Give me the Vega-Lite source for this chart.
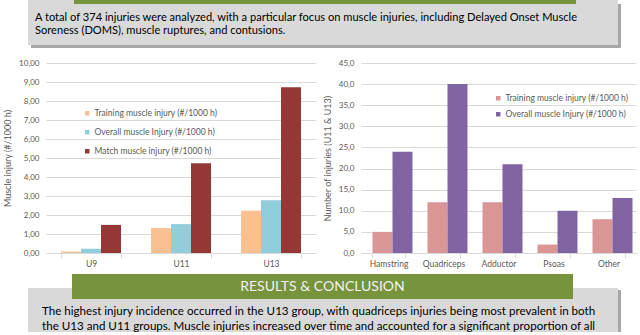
{
  "$schema": "https://vega.github.io/schema/vega-lite/v6.json",
  "padding": {"left": 3, "top": 0, "right": 0, "bottom": 0},
  "background": "white",
  "config": {
    "font": "Lato",
    "view": {"stroke": null},
    "locale": {"number": {"decimal": ",", "thousands": ".", "grouping": [3], "currency": ["", " €"]}},
    "axis": {"labelFont": "Lato", "titleFont": "Lato"},
    "legend": {"labelFont": "Lato"}
  },
  "vconcat": [
    {
      "vconcat": [
        {
          "hconcat": [
            {"width": 46, "height": 4, "view": {"fill": "#D9D9D9", "stroke": null}, "data": {"values": []}, "mark": {"type": "rect", "opacity": 0}, "encoding": {}},
            {"width": 502, "height": 4, "view": {"fill": "#77933C", "stroke": null}, "data": {"values": []}, "mark": {"type": "rect", "opacity": 0}, "encoding": {}},
            {"width": 42, "height": 4, "view": {"fill": "#D9D9D9", "stroke": null}, "data": {"values": []}, "mark": {"type": "rect", "opacity": 0}, "encoding": {}},
            {"width": 36, "height": 4, "data": {"values": []}, "mark": {"type": "rect", "opacity": 0}, "encoding": {}}
          ],
          "spacing": 0
        },
        {
          "hconcat": [
            {
              "width": 590, "height": 41,
              "view": {"fill": "#D9D9D9", "stroke": null},
              "data": {"values": [
                {"line": 1, "text": "A total of 374 injuries were analyzed, with a particular focus on muscle injuries, including Delayed Onset Muscle"},
                {"line": 2, "text": "Soreness (DOMS), muscle ruptures, and contusions."}
              ]},
              "mark": {"type": "text", "align": "left", "baseline": "alphabetic", "fontSize": 11.1, "color": "#000000", "font": "Lato"},
              "encoding": {
                "x": {"value": 7},
                "y": {"field": "line", "type": "ordinal", "axis": null, "scale": {"padding": 0.986, "align": 0.61}},
                "text": {"field": "text"}
              }
            },
            {"width": 3, "height": 41, "view": {"fill": "#A6A6A6", "stroke": null}, "data": {"values": []}, "mark": {"type": "rect", "opacity": 0}, "encoding": {}},
            {"width": 33, "height": 41, "data": {"values": []}, "mark": {"type": "rect", "opacity": 0}, "encoding": {}}
          ],
          "spacing": 0
        },
        {
          "hconcat": [
            {"width": 3, "height": 3, "data": {"values": []}, "mark": {"type": "rect", "opacity": 0}, "encoding": {}},
            {"width": 590, "height": 3, "view": {"fill": "#A6A6A6", "stroke": null}, "data": {"values": []}, "mark": {"type": "rect", "opacity": 0}, "encoding": {}},
            {"width": 33, "height": 3, "data": {"values": []}, "mark": {"type": "rect", "opacity": 0}, "encoding": {}}
          ],
          "spacing": 0
        }
      ],
      "spacing": 0
    },
    {
      "vconcat": [
        {
          "hconcat": [
            {
              "width": 270, "height": 190,
              "data": {"values": [
                {"age": "U9", "series": "Training muscle injury (#/1000 h)", "value": 0.08},
                {"age": "U9", "series": "Overall muscle Injury (#/1000 h)", "value": 0.23},
                {"age": "U9", "series": "Match muscle injury (#/1000 h)", "value": 1.48},
                {"age": "U11", "series": "Training muscle injury (#/1000 h)", "value": 1.31},
                {"age": "U11", "series": "Overall muscle Injury (#/1000 h)", "value": 1.52},
                {"age": "U11", "series": "Match muscle injury (#/1000 h)", "value": 4.72},
                {"age": "U13", "series": "Training muscle injury (#/1000 h)", "value": 2.22},
                {"age": "U13", "series": "Overall muscle Injury (#/1000 h)", "value": 2.77},
                {"age": "U13", "series": "Match muscle injury (#/1000 h)", "value": 8.72}
              ]},
              "mark": {"type": "bar"},
              "encoding": {
                "x": {
                  "field": "age", "type": "nominal", "sort": ["U9", "U11", "U13"],
                  "scale": {"paddingInner": 0.3333, "paddingOuter": 0.1667},
                  "axis": {"title": null, "labelAngle": 0, "tickBand": "extent", "tickColor": "#D9D9D9", "tickSize": 5, "domainColor": "#D9D9D9", "labelPadding": 1, "labelFontSize": 8.5, "labelColor": "#595959"}
                },
                "xOffset": {
                  "field": "series", "type": "nominal",
                  "scale": {"domain": ["Training muscle injury (#/1000 h)", "Overall muscle Injury (#/1000 h)", "Match muscle injury (#/1000 h)"], "paddingInner": 0, "paddingOuter": 0}
                },
                "y": {
                  "field": "value", "type": "quantitative",
                  "scale": {"domain": [0, 10], "nice": false},
                  "axis": {"title": "Muscle injury (#/1000 h)", "format": ".2f", "values": [0, 1, 2, 3, 4, 5, 6, 7, 8, 9, 10], "grid": true, "gridColor": "#D9D9D9", "domain": false, "ticks": false, "labelPadding": 7, "labelFontSize": 8, "labelColor": "#595959", "titleFontSize": 9, "titleFontWeight": "normal", "titleColor": "#595959", "titlePadding": 6}
                },
                "color": {
                  "field": "series", "type": "nominal",
                  "scale": {"domain": ["Training muscle injury (#/1000 h)", "Overall muscle Injury (#/1000 h)", "Match muscle injury (#/1000 h)"], "range": ["#FAC090", "#92CDDC", "#953735"]},
                  "legend": {"orient": "none", "legendX": 37, "legendY": 46, "title": null, "symbolType": "square", "symbolSize": 20, "symbolStrokeWidth": 0, "labelFontSize": 8.5, "labelColor": "#595959", "rowPadding": 10, "padding": 0, "labelOffset": 3}
                }
              }
            },
            {
              "width": 275, "height": 190,
              "data": {"values": [
                {"muscle": "Hamstring", "kind": "Training muscle injury (#/1000 h)", "count": 5},
                {"muscle": "Hamstring", "kind": "Overall muscle Injury (#/1000 h)", "count": 24},
                {"muscle": "Quadriceps", "kind": "Training muscle injury (#/1000 h)", "count": 12},
                {"muscle": "Quadriceps", "kind": "Overall muscle Injury (#/1000 h)", "count": 40},
                {"muscle": "Adductor", "kind": "Training muscle injury (#/1000 h)", "count": 12},
                {"muscle": "Adductor", "kind": "Overall muscle Injury (#/1000 h)", "count": 21},
                {"muscle": "Psoas", "kind": "Training muscle injury (#/1000 h)", "count": 2},
                {"muscle": "Psoas", "kind": "Overall muscle Injury (#/1000 h)", "count": 10},
                {"muscle": "Other", "kind": "Training muscle injury (#/1000 h)", "count": 8},
                {"muscle": "Other", "kind": "Overall muscle Injury (#/1000 h)", "count": 13}
              ]},
              "mark": {"type": "bar"},
              "encoding": {
                "x": {
                  "field": "muscle", "type": "nominal", "sort": ["Hamstring", "Quadriceps", "Adductor", "Psoas", "Other"],
                  "scale": {"paddingInner": 0.418, "paddingOuter": 0.209},
                  "axis": {"title": null, "labelAngle": 0, "tickBand": "extent", "tickColor": "#D9D9D9", "tickSize": 5, "domainColor": "#D9D9D9", "labelPadding": 1, "labelFontSize": 8.5, "labelColor": "#595959"}
                },
                "xOffset": {
                  "field": "kind", "type": "nominal",
                  "scale": {"domain": ["Training muscle injury (#/1000 h)", "Overall muscle Injury (#/1000 h)"], "paddingInner": 0, "paddingOuter": 0}
                },
                "y": {
                  "field": "count", "type": "quantitative",
                  "scale": {"domain": [0, 45], "nice": false},
                  "axis": {"title": "Number of injuries (U11 & U13)", "format": ".1f", "values": [0, 5, 10, 15, 20, 25, 30, 35, 40, 45], "grid": true, "gridColor": "#D9D9D9", "domain": false, "ticks": false, "labelPadding": 7, "labelFontSize": 8, "labelColor": "#595959", "titleFontSize": 9, "titleFontWeight": "normal", "titleColor": "#595959", "titlePadding": 6}
                },
                "color": {
                  "field": "kind", "type": "nominal",
                  "scale": {"domain": ["Training muscle injury (#/1000 h)", "Overall muscle Injury (#/1000 h)"], "range": ["#D99694", "#8064A2"]},
                  "legend": {"orient": "none", "legendX": 133, "legendY": 31, "title": null, "symbolType": "square", "symbolSize": 20, "symbolStrokeWidth": 0, "labelFontSize": 8.5, "labelColor": "#595959", "rowPadding": 7, "padding": 0, "labelOffset": 3}
                }
              }
            }
          ],
          "spacing": 7,
          "resolve": {"scale": {"color": "independent"}, "legend": {"color": "independent"}}
        },
        {
          "vconcat": [
            {
              "hconcat": [
                {
                  "vconcat": [
                    {"width": 44, "height": 14, "data": {"values": []}, "mark": {"type": "rect", "opacity": 0}, "encoding": {}},
                    {"width": 44, "height": 11, "view": {"fill": "#D9D9D9", "stroke": null}, "data": {"values": []}, "mark": {"type": "rect", "opacity": 0}, "encoding": {}}
                  ],
                  "spacing": 0
                },
                {
                  "width": 501, "height": 25,
                  "view": {"fill": "#77933C", "stroke": null},
                  "data": {"values": [{"title": "RESULTS & CONCLUSION"}]},
                  "mark": {"type": "text", "align": "center", "baseline": "middle", "fontSize": 14, "color": "#F2F2F2", "font": "Lato"},
                  "encoding": {"text": {"field": "title"}}
                },
                {
                  "vconcat": [
                    {"width": 45, "height": 14, "data": {"values": []}, "mark": {"type": "rect", "opacity": 0}, "encoding": {}},
                    {"width": 45, "height": 11, "view": {"fill": "#D9D9D9", "stroke": null}, "data": {"values": []}, "mark": {"type": "rect", "opacity": 0}, "encoding": {}}
                  ],
                  "spacing": 0
                },
                {
                  "vconcat": [
                    {"width": 3, "height": 16, "data": {"values": []}, "mark": {"type": "rect", "opacity": 0}, "encoding": {}},
                    {"width": 3, "height": 9, "view": {"fill": "#A6A6A6", "stroke": null}, "data": {"values": []}, "mark": {"type": "rect", "opacity": 0}, "encoding": {}}
                  ],
                  "spacing": 0
                },
                {"width": 33, "height": 25, "data": {"values": []}, "mark": {"type": "rect", "opacity": 0}, "encoding": {}}
              ],
              "spacing": 0
            },
            {
              "hconcat": [
                {
                  "width": 590, "height": 33,
                  "view": {"fill": "#D9D9D9", "stroke": null},
                  "data": {"values": [
                    {"line": 1, "text": "The highest injury incidence occurred in the U13 group, with quadriceps injuries being most prevalent in both"},
                    {"line": 2, "text": "the U13 and U11 groups. Muscle injuries increased over time and accounted for a significant proportion of all"}
                  ]},
                  "mark": {"type": "text", "align": "left", "baseline": "alphabetic", "fontSize": 11.6, "color": "#000000", "font": "Lato"},
                  "encoding": {
                    "x": {"value": 14},
                    "y": {"field": "line", "type": "ordinal", "axis": null, "scale": {"padding": 0.6, "align": 0.89}},
                    "text": {"field": "text"}
                  }
                },
                {"width": 3, "height": 33, "view": {"fill": "#A6A6A6", "stroke": null}, "data": {"values": []}, "mark": {"type": "rect", "opacity": 0}, "encoding": {}},
                {"width": 33, "height": 33, "data": {"values": []}, "mark": {"type": "rect", "opacity": 0}, "encoding": {}}
              ],
              "spacing": 0
            }
          ],
          "spacing": 0
        }
      ],
      "spacing": 6,
      "center": true
    }
  ],
  "spacing": 11,
  "center": true
}
